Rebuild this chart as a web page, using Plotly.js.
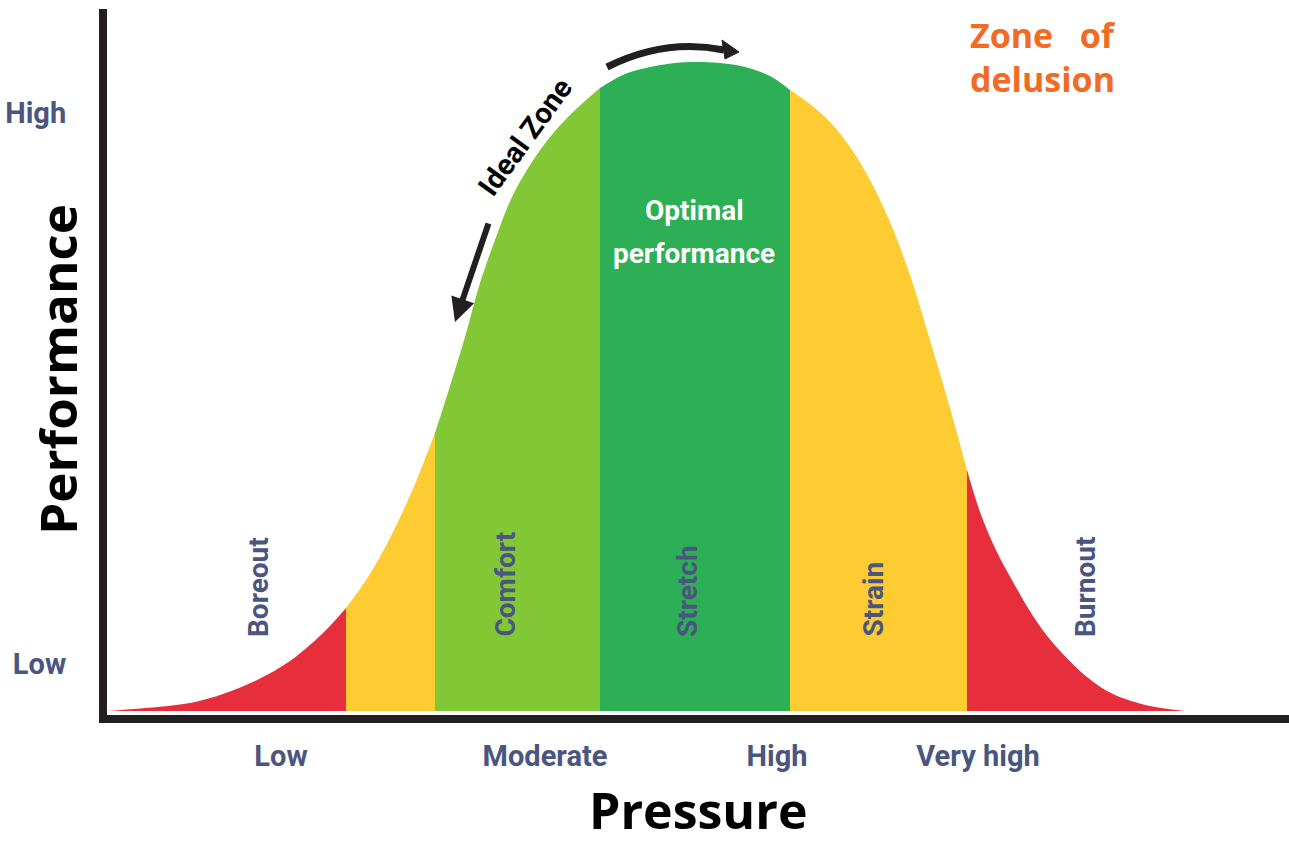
<!DOCTYPE html>
<html>
<head>
<meta charset="utf-8">
<script src="https://cdn.plot.ly/plotly-3.0.1.min.js"></script>
<style>html,body{margin:0;padding:0;background:#fff;}#chart{width:1289px;height:846px;}</style>
</head>
<body>
<div id="chart"></div>
<script>
// Curve: pressure (x) vs performance (y)
const pressure = [4, 54, 87, 120, 154, 187, 220, 243, 265, 287, 309, 332, 347, 362, 377, 392, 409, 427, 447, 470, 497, 522, 547, 572, 592, 617, 642, 667, 687, 707, 727, 747, 767, 787, 807, 827, 847, 864, 877, 892, 910, 930, 950, 984, 1010, 1047, 1082];
const performance = [0, 4, 8, 17, 31, 50, 78, 103, 134, 173, 220, 278, 325, 374, 428, 471, 514, 546, 574, 599, 623, 637, 644, 648, 649, 648, 644, 635, 621, 607, 589, 564, 531, 489, 436, 371, 303, 241, 199, 163, 129, 95, 68, 34, 17, 5, 0];

// Zones along pressure
const zoneEdges = [4, 243, 332, 497, 687, 864, 1082];
const zoneNames = ['Boreout', 'Boreout-Comfort', 'Comfort', 'Stretch', 'Strain', 'Burnout'];
const zoneColors = ['#E62E3D', '#FDCC33', '#82C836', '#2CAF55', '#FDCC33', '#E62E3D'];

// Axis tick labels
const xTickVals = [178, 442, 674, 875];
const xTickText = ['Low', 'Moderate', 'High', 'Very high'];
const yTickVals = [47, 598];
const yTickText = ['Low', 'High'];

const COND = "Roboto, 'Liberation Sans Narrow', sans-serif";
const SANS = "'Open Sans', sans-serif";
const SLATE = '#4a5680';
const INK = '#231f20';

const traces = zoneNames.map((name, i) => {
  const lo = zoneEdges[i], hi = zoneEdges[i + 1];
  const xs = [], ys = [];
  pressure.forEach((p, k) => { if (p >= lo && p <= hi) { xs.push(p); ys.push(performance[k]); } });
  return {
    type: 'scatter', mode: 'lines', name: name, x: xs, y: ys,
    line: {width: 0, shape: 'spline', smoothing: 1, color: zoneColors[i]},
    fill: 'tozeroy', fillcolor: zoneColors[i], hoverinfo: 'skip', showlegend: false
  };
});

const zoneLabel = (text, x) => ({
  text: text, x: x, y: 72, xref: 'x', yref: 'y', textangle: -90,
  xanchor: 'center', yanchor: 'bottom', showarrow: false,
  font: {family: COND, size: 28, weight: 'bold', color: SLATE}
});

const layout = {
  width: 1289, height: 846,
  margin: {l: 107, r: 0, t: 9, b: 131},
  paper_bgcolor: '#fff', plot_bgcolor: '#fff',
  showlegend: false,
  xaxis: {
    range: [4, 1186], showgrid: false, zeroline: false,
    showline: true, linecolor: INK, linewidth: 8, ticks: '',
    tickvals: xTickVals, ticktext: xTickText, ticklabelstandoff: 8,
    tickfont: {family: COND, size: 29, weight: 'bold', color: SLATE},
    fixedrange: true
  },
  yaxis: {
    range: [-4, 702], showgrid: false, zeroline: false,
    showline: true, linecolor: INK, linewidth: 8, ticks: '',
    tickvals: yTickVals, ticktext: yTickText, ticklabelstandoff: 27,
    tickfont: {family: COND, size: 29, weight: 'bold', color: SLATE},
    fixedrange: true
  },
  shapes: [
    {type: 'path', xref: 'x', yref: 'y', path: 'M504,644 Q562,673 621,661', line: {color: INK, width: 7}},
    {type: 'path', xref: 'x', yref: 'y', path: 'M619,671 L636,659 L622,652 Z', fillcolor: INK, line: {color: INK, width: 1}}
  ],
  annotations: [
    {text: 'Pressure', xref: 'paper', yref: 'paper', x: 0.5, y: 0, yshift: -131,
     xanchor: 'center', yanchor: 'bottom', showarrow: false,
     font: {family: SANS, size: 50, weight: 'bold', color: '#000'}},
    {text: 'Performance', xref: 'paper', yref: 'paper', x: 0, y: 0.489, xshift: -50,
     xanchor: 'center', yanchor: 'middle', textangle: -90, showarrow: false,
     font: {family: SANS, size: 51, weight: 'bold', color: '#000'}},
    zoneLabel('Boreout', 155),
    zoneLabel('Comfort', 402),
    zoneLabel('Stretch', 584),
    zoneLabel('Strain', 770),
    zoneLabel('Burnout', 982),
    {text: 'Optimal', x: 591, y: 501, xref: 'x', yref: 'y', showarrow: false,
     font: {family: COND, size: 28, weight: 'bold', color: '#ffffff'}},
    {text: 'performance', x: 591, y: 458, xref: 'x', yref: 'y', showarrow: false,
     font: {family: COND, size: 28, weight: 'bold', color: '#ffffff'}},
    {text: 'Ideal Zone', x: 422, y: 574, xref: 'x', yref: 'y', showarrow: false, textangle: -54,
     font: {family: COND, size: 29, weight: 'bold', color: '#000'}},
    {text: '', x: 352, y: 389, xref: 'x', yref: 'y', showarrow: true, ax: 34, ay: -100,
     arrowhead: 2, arrowsize: 0.8, arrowwidth: 6, arrowcolor: INK, standoff: 0},
    {text: 'Zone\u00a0\u00a0\u00a0of<br>delusion', x: 865, y: 701, xref: 'x', yref: 'y', xanchor: 'left', yanchor: 'top',
     showarrow: false, align: 'left',
     font: {family: SANS, size: 34, weight: 'bold', color: '#F26B25'}}
  ]
};

Plotly.newPlot('chart', traces, layout, {displayModeBar: false, staticPlot: true});
</script>
</body>
</html>
